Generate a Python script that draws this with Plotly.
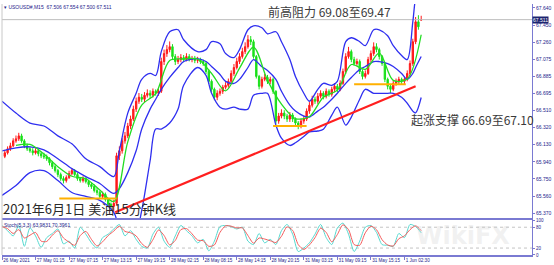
import plotly.graph_objects as go

# ---------------- data ----------------
# candle positions in 15-minute bars counted from 26 May 2021 (one candle per 2 bars)
bar_idx = [2 * k for k in range(1, 151)]

opens = [66.000, 66.039, 66.083, 66.116, 66.171, 66.193, 66.226, 66.171, 66.116, 66.083,
         66.061, 66.039, 66.061, 66.028, 66.006, 65.995, 65.973, 65.930, 65.886, 65.842,
         65.798, 65.754, 65.732, 65.765, 65.809, 65.842, 65.798, 65.754, 65.732, 65.754,
         65.721, 65.688, 65.666, 65.622, 65.601, 65.557, 65.579, 65.524, 65.469, 65.447,
         65.480, 66.006, 66.061, 66.171, 66.226, 66.335, 66.412, 66.522, 66.609, 66.653,
         66.631, 66.675, 66.697, 66.675, 66.719, 66.697, 66.719, 67.048, 67.136, 67.180,
         67.212, 67.103, 67.048, 67.070, 67.092, 67.070, 67.103, 67.070, 67.081, 67.059,
         67.070, 67.048, 67.026, 66.938, 66.829, 66.741, 66.653, 66.697, 66.719, 66.763,
         66.785, 66.829, 66.916, 66.982, 67.048, 67.103, 67.158, 67.212, 67.289, 67.267,
         67.103, 66.883, 66.774, 66.851, 66.872, 66.829, 66.851, 66.719, 66.390, 66.445,
         66.478, 66.445, 66.412, 66.456, 66.412, 66.368, 66.335, 66.390, 66.412, 66.500,
         66.565, 66.631, 66.609, 66.664, 66.697, 66.664, 66.719, 66.686, 66.741, 66.774,
         66.741, 66.807, 66.938, 67.103, 67.158, 67.070, 67.026, 67.048, 66.938, 66.883,
         66.916, 67.070, 67.136, 67.212, 67.180, 67.103, 67.026, 66.851, 66.774, 66.741,
         66.807, 66.829, 66.851, 66.829, 66.851, 66.916, 67.026, 67.267, 67.487, 67.506]

closes = [66.039, 66.083, 66.116, 66.171, 66.193, 66.226, 66.171, 66.116, 66.083, 66.061,
          66.039, 66.061, 66.028, 66.006, 65.995, 65.973, 65.930, 65.886, 65.842, 65.798,
          65.754, 65.732, 65.765, 65.809, 65.842, 65.798, 65.754, 65.732, 65.754, 65.721,
          65.688, 65.666, 65.622, 65.601, 65.557, 65.579, 65.524, 65.469, 65.447, 65.480,
          66.006, 66.061, 66.171, 66.226, 66.335, 66.412, 66.522, 66.609, 66.653, 66.631,
          66.675, 66.697, 66.675, 66.719, 66.697, 66.719, 67.048, 67.136, 67.180, 67.212,
          67.103, 67.048, 67.070, 67.092, 67.070, 67.103, 67.070, 67.081, 67.059, 67.070,
          67.048, 67.026, 66.938, 66.829, 66.741, 66.653, 66.697, 66.719, 66.763, 66.785,
          66.829, 66.916, 66.982, 67.048, 67.103, 67.158, 67.212, 67.289, 67.267, 67.103,
          66.883, 66.774, 66.851, 66.872, 66.829, 66.851, 66.719, 66.390, 66.445, 66.478,
          66.445, 66.412, 66.456, 66.412, 66.368, 66.335, 66.390, 66.412, 66.500, 66.565,
          66.631, 66.609, 66.664, 66.697, 66.664, 66.719, 66.686, 66.741, 66.774, 66.741,
          66.807, 66.938, 67.103, 67.158, 67.070, 67.026, 67.048, 66.938, 66.883, 66.916,
          67.070, 67.136, 67.212, 67.180, 67.103, 67.026, 66.851, 66.774, 66.741, 66.807,
          66.829, 66.851, 66.829, 66.851, 66.916, 67.026, 67.267, 67.487, 67.432, 67.511]

highs = [66.070, 66.110, 66.150, 66.200, 66.230, 66.260, 66.250, 66.190, 66.140, 66.110,
         66.090, 66.090, 66.080, 66.050, 66.040, 66.020, 65.990, 65.950, 65.910, 65.860,
         65.820, 65.780, 65.790, 65.840, 65.870, 65.860, 65.820, 65.770, 65.780, 65.770,
         65.740, 65.710, 65.690, 65.650, 65.620, 65.610, 65.600, 65.540, 65.490, 65.520,
         66.040, 66.110, 66.200, 66.270, 66.370, 66.450, 66.560, 66.650, 66.700, 66.690,
         66.710, 66.740, 66.730, 66.750, 66.740, 66.750, 67.090, 67.180, 67.230, 67.270,
         67.240, 67.130, 67.110, 67.130, 67.120, 67.140, 67.130, 67.110, 67.110, 67.100,
         67.090, 67.070, 67.050, 66.960, 66.850, 66.760, 66.730, 66.750, 66.790, 66.820,
         66.860, 66.950, 67.020, 67.090, 67.140, 67.200, 67.260, 67.340, 67.330, 67.290,
         67.120, 66.900, 66.880, 66.910, 66.900, 66.880, 66.870, 66.730, 66.480, 66.520,
         66.510, 66.470, 66.490, 66.480, 66.430, 66.390, 66.420, 66.450, 66.530, 66.600,
         66.670, 66.660, 66.700, 66.730, 66.720, 66.750, 66.740, 66.770, 66.810, 66.800,
         66.840, 66.970, 67.140, 67.210, 67.180, 67.100, 67.080, 67.070, 66.960, 66.950,
         67.100, 67.170, 67.260, 67.250, 67.200, 67.120, 67.040, 66.870, 66.800, 66.840,
         66.860, 66.880, 66.870, 66.880, 66.950, 67.060, 67.300, 67.540, 67.560, 67.554]

lows = [65.980, 66.020, 66.060, 66.100, 66.150, 66.170, 66.150, 66.090, 66.060, 66.040,
        66.010, 66.020, 66.000, 65.980, 65.970, 65.950, 65.900, 65.860, 65.820, 65.770,
        65.730, 65.700, 65.710, 65.750, 65.790, 65.780, 65.730, 65.710, 65.710, 65.700,
        65.660, 65.640, 65.600, 65.570, 65.530, 65.530, 65.500, 65.440, 65.400, 65.385,
        65.460, 65.960, 66.030, 66.140, 66.200, 66.300, 66.390, 66.490, 66.580, 66.600,
        66.600, 66.650, 66.640, 66.650, 66.670, 66.670, 66.700, 67.010, 67.100, 67.150,
        67.070, 67.010, 67.020, 67.040, 67.040, 67.050, 67.050, 67.040, 67.030, 67.030,
        67.020, 67.000, 66.910, 66.800, 66.710, 66.620, 66.620, 66.670, 66.690, 66.740,
        66.760, 66.800, 66.890, 66.960, 67.020, 67.080, 67.130, 67.190, 67.230, 67.080,
        66.860, 66.740, 66.750, 66.830, 66.800, 66.800, 66.690, 66.360, 66.360, 66.420,
        66.410, 66.380, 66.380, 66.380, 66.340, 66.300, 66.310, 66.360, 66.390, 66.470,
        66.540, 66.580, 66.580, 66.640, 66.630, 66.640, 66.660, 66.660, 66.710, 66.710,
        66.720, 66.790, 66.910, 67.080, 67.040, 67.000, 67.000, 66.910, 66.850, 66.860,
        66.900, 67.040, 67.110, 67.150, 67.070, 67.000, 66.820, 66.740, 66.700, 66.720,
        66.780, 66.800, 66.800, 66.800, 66.830, 66.890, 67.000, 67.240, 67.400, 67.500]

# Bollinger bands, sampled along the chart
band_bars = [0, 10, 20, 30, 40, 50, 60, 70, 80, 84, 90, 96, 100, 106, 110, 114, 120, 126, 130,
             140, 146, 150, 156, 160, 166, 170, 176, 180, 186, 190, 196, 200, 206, 210, 216,
             220, 226, 230, 236, 240, 246, 250, 256, 260, 266, 270, 276, 280, 286, 290, 294,
             296, 300]
band_upper = [66.609, 66.478, 66.368, 66.335, 66.226, 66.138, 65.973, 65.886, 65.776, 66.061,
              66.478, 66.697, 66.851, 66.916, 66.894, 67.158, 67.377, 67.399, 67.289, 67.158,
              67.180, 67.267, 67.245, 67.136, 67.092, 67.180, 67.399, 67.443, 67.421, 67.355,
              67.377, 67.267, 67.070, 66.883, 66.697, 66.609, 66.741, 66.807, 66.785, 66.829,
              67.267, 67.311, 67.267, 67.223, 67.399, 67.399, 67.333, 67.223, 67.114, 67.070,
              67.487, 67.761, 68.035]
band_middle = [66.061, 66.094, 66.105, 66.072, 65.973, 65.864, 65.776, 65.699, 65.590, 65.644,
               65.820, 66.061, 66.302, 66.522, 66.631, 66.741, 66.872, 66.982, 67.048, 67.081,
               67.048, 66.993, 66.905, 66.829, 66.807, 66.851, 66.982, 67.070, 66.990, 66.950,
               66.850, 66.719, 66.565, 66.500, 66.445, 66.434, 66.500, 66.543, 66.631, 66.697,
               66.807, 66.872, 66.960, 66.993, 67.048, 67.048, 67.026, 66.993, 66.916, 66.851,
               66.916, 66.982, 67.103]
band_lower = [65.568, 65.677, 65.820, 65.842, 65.732, 65.600, 65.557, 65.513, 65.381, 65.206,
              65.096, 65.162, 65.403, 65.951, 66.302, 66.302, 66.368, 66.522, 66.785, 66.982,
              66.894, 66.697, 66.543, 66.522, 66.543, 66.522, 66.522, 66.675, 66.697, 66.697,
              66.346, 66.200, 66.120, 66.150, 66.220, 66.270, 66.280, 66.300, 66.456, 66.543,
              66.346, 66.434, 66.631, 66.741, 66.697, 66.697, 66.697, 66.697, 66.653, 66.587,
              66.500, 66.480, 66.650]

# fast moving average (green line)
ma_bars = [10, 20, 30, 40, 50, 60, 70, 80, 90, 100, 110, 120, 130, 140, 150, 160, 170, 180,
           190, 200, 210, 220, 230, 240, 250, 260, 270, 280, 290, 300]
ma_values = [66.120, 66.131, 66.026, 65.886, 65.780, 65.752, 65.627, 65.500, 66.160, 66.565,
             66.693, 67.059, 67.076, 67.076, 66.916, 66.723, 66.975, 67.206, 66.842, 66.576,
             66.418, 66.440, 66.653, 66.732, 67.015, 66.962, 67.140, 66.839, 66.855, 67.344]

# Stochastic (5,3,3)
stoch_bars = [4 * j for j in range(76)]
stoch_main = [85, 70, 55, 85, 25, 78, 55, 22, 50, 62,
              75, 32, 40, 20, 80, 60, 35, 20, 50, 60,
              75, 88, 55, 70, 45, 25, 20, 60, 80, 40,
              22, 55, 85, 70, 55, 35, 45, 12, 40, 82,
              85, 82, 75, 80, 40, 30, 62, 35, 45, 30,
              70, 88, 60, 10, 20, 35, 60, 88, 50, 30,
              78, 92, 60, 10, 40, 80, 85, 65, 30, 28,
              25, 62, 50, 88, 82, 64]
stoch_signal = [82, 76, 62, 73, 49, 57, 65, 40, 39, 57,
                70, 49, 37, 28, 56, 68, 45, 26, 38, 56,
                69, 83, 68, 64, 55, 33, 22, 44, 72, 56,
                29, 42, 73, 76, 61, 43, 41, 25, 29, 65,
                84, 83, 78, 78, 56, 34, 49, 46, 41, 36,
                54, 81, 71, 30, 16, 29, 50, 77, 65, 38,
                59, 87, 73, 30, 28, 64, 83, 73, 44, 29,
                26, 47, 55, 73, 84, 70]
stoch_levels = [20, 80]

# drawn objects
trend_bars = [81, 296]
trend_prices = [65.381, 66.774]
support_lines = [([41, 82], 65.535), ([194, 218], 66.335), ([252, 289], 66.796)]
last_price = 67.511

# axes labels
x_tick_bars = [0, 24, 48, 72, 96, 120, 144, 168, 192, 216, 240, 264, 288]
x_tick_text = ["26 May 2021", "27 May 01:15", "27 May 07:15", "27 May 13:15", "27 May 19:15",
               "28 May 02:15", "28 May 08:15", "28 May 14:15", "28 May 20:15", "31 May 03:15",
               "31 May 09:15", "31 May 15:15", "1 Jun 02:30"]
y_ticks = [67.640, 67.450, 67.260, 67.075, 66.885, 66.695, 66.510, 66.320, 66.130,
           65.940, 65.750, 65.560, 65.370]

# ---------------- styling ----------------
AXIS = "#7a7ad2"
LABEL = "#23238c"
X_MAX = 379.3
tiny = dict(family="Liberation Sans", size=5, color=LABEL)
tiny_x = dict(family="Liberation Sans", size=4.6, color=LABEL)

fig = go.Figure()

fig.add_trace(go.Scatter(x=[0, X_MAX], y=[last_price, last_price], mode="lines",
                         line=dict(color="#bdbdbd", width=1), hoverinfo="skip"))

fig.add_trace(go.Candlestick(
    x=bar_idx, open=opens, high=highs, low=lows, close=closes,
    increasing=dict(line=dict(color="#ff1a1a", width=1), fillcolor="#ff1a1a"),
    decreasing=dict(line=dict(color="#19e019", width=1), fillcolor="#19e019"),
    whiskerwidth=0, hoverinfo="skip", xaxis="x", yaxis="y"))

for vals in (band_upper, band_middle, band_lower):
    fig.add_trace(go.Scatter(x=band_bars, y=vals, mode="lines",
                             line=dict(color="#2f2ff0", width=1.3, shape="spline", smoothing=0.9),
                             hoverinfo="skip"))

fig.add_trace(go.Scatter(x=ma_bars, y=ma_values, mode="lines",
                         line=dict(color="#22dd22", width=1.3, shape="spline", smoothing=0.9),
                         hoverinfo="skip"))

for xs, lvl in support_lines:
    fig.add_trace(go.Scatter(x=xs, y=[lvl, lvl], mode="lines",
                             line=dict(color="#ffb000", width=2), hoverinfo="skip"))

fig.add_trace(go.Scatter(x=trend_bars, y=trend_prices, mode="lines",
                         line=dict(color="#ff1f1f", width=2.2), hoverinfo="skip"))

# stochastic panel
for lvl in stoch_levels:
    fig.add_trace(go.Scatter(x=[0, X_MAX], y=[lvl, lvl], mode="lines", xaxis="x", yaxis="y2",
                             line=dict(color="#c4c4c4", width=1, dash="dot"), hoverinfo="skip"))
fig.add_trace(go.Scatter(x=stoch_bars, y=stoch_main, mode="lines", xaxis="x", yaxis="y2",
                         line=dict(color="#56d8cf", width=1, shape="spline", smoothing=0.7),
                         hoverinfo="skip"))
fig.add_trace(go.Scatter(x=stoch_bars, y=stoch_signal, mode="lines", xaxis="x", yaxis="y2",
                         line=dict(color="#f25a5a", width=1, shape="spline", smoothing=0.7),
                         hoverinfo="skip"))

fig.update_layout(
    width=554, height=265, margin=dict(l=2, r=21, t=2, b=10),
    paper_bgcolor="white", plot_bgcolor="white", showlegend=False,
    xaxis=dict(domain=[0, 1], range=[0, X_MAX], anchor="y2",
               tickvals=x_tick_bars, ticktext=x_tick_text, tickfont=tiny_x, tickangle=0,
               ticks="outside", ticklen=3, tickcolor=AXIS, ticklabelposition="outside right",
               showline=True, linecolor=AXIS, linewidth=1.5, mirror=True,
               showgrid=False, zeroline=False, rangeslider=dict(visible=False)),
    yaxis=dict(domain=[0.1423, 1], range=[65.304, 67.684], side="right", anchor="x",
               tickvals=y_ticks, ticktext=[f"{v:.3f}" for v in y_ticks], tickfont=tiny,
               ticks="outside", ticklen=2, tickcolor=AXIS,
               showline=True, linecolor=AXIS, linewidth=1,
               showgrid=False, zeroline=False),
    yaxis2=dict(domain=[0, 0.1383], range=[0, 100], side="right", anchor="x",
                tickvals=[0, 20, 80, 100], ticktext=["0", "20", "80", "100"],
                tickfont=dict(family="Liberation Sans", size=4.5, color=LABEL),
                ticks="outside", ticklen=2, tickcolor=AXIS,
                showline=True, linecolor=AXIS, linewidth=1,
                showgrid=False, zeroline=False),
    shapes=[dict(type="line", xref="paper", yref="paper", x0=0, x1=0, y0=0, y1=1,
                 line=dict(color="#c8c8c8", width=1))],
)

ann = []
ann.append(dict(xref="paper", yref="paper", x=0.0, y=0.988, xanchor="left", yanchor="middle",
                text="▾ USOUSD#,M15  67.506 67.554 67.500 67.511", showarrow=False, font=tiny))
ann.append(dict(xref="paper", yref="paper", x=0.0, y=0.121, xanchor="left", yanchor="middle",
                text="Stoch(5,3,3) 63.9831 70.3961", showarrow=False, font=tiny))
ann.append(dict(xref="paper", yref="y", x=1.0, y=last_price, xanchor="left", yanchor="middle",
                text="67.511", showarrow=False, bgcolor="#1c2470",
                font=dict(family="Liberation Sans", size=5, color="white"), borderpad=0))
cjk = "Noto Sans CJK SC"
ann.append(dict(xref="x", yref="y", x=189, y=67.596, xanchor="left", yanchor="middle",
                text="前高阻力 69.08至69.47", showarrow=False,
                font=dict(family=cjk, size=12, color="#3a3a3a")))
ann.append(dict(xref="x", yref="y", x=291, y=66.412, xanchor="left", yanchor="middle",
                text="起涨支撑 66.69至67.10", showarrow=False,
                font=dict(family=cjk, size=12, color="#3a3a3a")))
ann.append(dict(xref="x", yref="y", x=0, y=65.312, xanchor="left", yanchor="bottom",
                text="2021年6月1日 美油15分钟K线", showarrow=False, borderpad=0,
                font=dict(family=cjk, size=13, color="#2a2a2a")))
ann.append(dict(xref="paper", yref="paper", x=0.87, y=0.075, xanchor="center", yanchor="middle",
                text="<b>WikiFX</b>", showarrow=False,
                font=dict(family="DejaVu Sans", size=24, color="rgba(200,200,200,0.25)")))
fig.update_layout(annotations=ann)

fig.write_html("out.html")
